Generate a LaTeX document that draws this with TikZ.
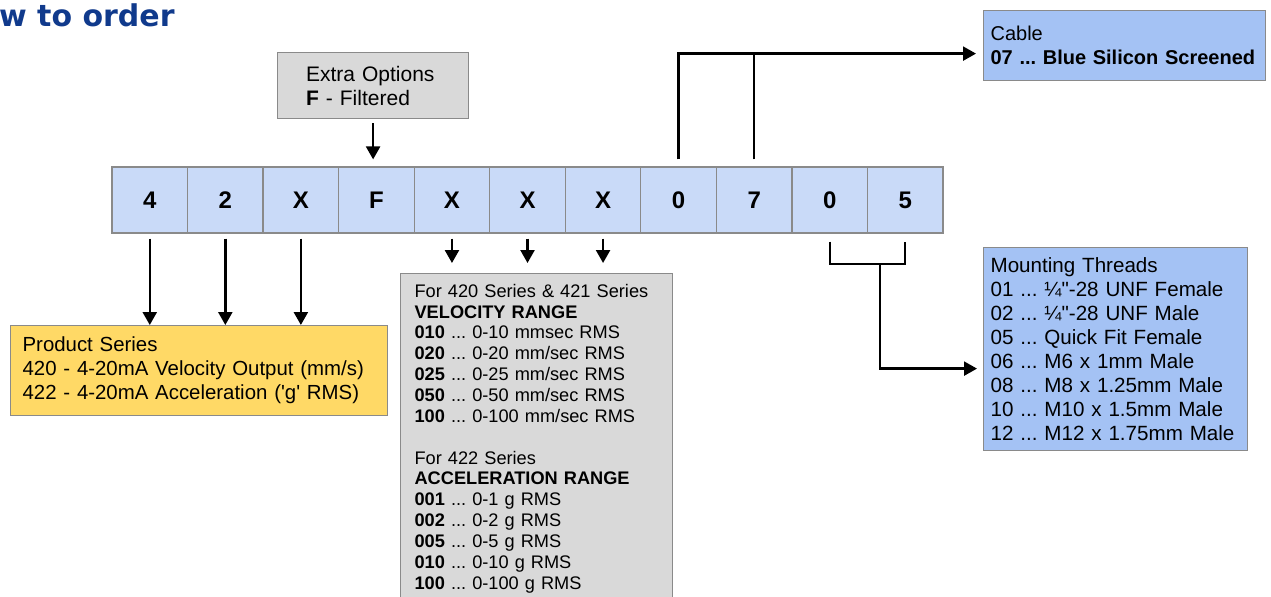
\documentclass[tikz,border=0pt]{standalone}
\usepackage{fontspec}
\setmainfont{Liberation Sans}
\newfontfamily\titlefont{DejaVu Sans}
\usetikzlibrary{arrows.meta}
\frenchspacing

\definecolor{cellblue}{HTML}{C9DAF8}
\definecolor{optgray}{HTML}{D9D9D9}
\definecolor{seriesyellow}{HTML}{FFD966}
\definecolor{optblue}{HTML}{A4C2F4}
\definecolor{titleblue}{HTML}{103A8C}
\definecolor{edgegray}{HTML}{8A8A8A}

\tikzset{
  cell/.style={draw=edgegray,fill=cellblue,line width=0.6pt,inner sep=0pt,
    minimum width=37.78pt,minimum height=33pt,font=\fontsize{12}{14}\selectfont\bfseries},
  optbox/.style={draw=edgegray,line width=0.6pt,anchor=north west,align=left,
    font=\fontsize{10.5}{12}\selectfont},
  arr/.style={-{Triangle[length=6.5pt,width=7pt]},line width=1.2pt},
  link/.style={line width=1.2pt},
}

\begin{document}
\begin{tikzpicture}[x=0.5pt,y=-0.5pt]
\useasboundingbox (0,0) rectangle (1271,596);

% heading, cut at the left edge
\node[anchor=base east,inner sep=0pt,text=titleblue,font=\titlefont\fontsize{15}{18}\selectfont\bfseries] (title) at (175,26) {How to order};

% the code
\foreach \d [count=\i] in {4,2,X,F,X,X,X,0,7,0,5}
  \node[cell] (c\i) at ({112+75.55*(\i-0.5)},200) {\d};

% option boxes
\node[optbox,fill=optgray,text width=67pt,inner xsep=14.25pt,minimum height=33pt] (extra) at (277,52)
  {Extra Options\\\textbf{F} - Filtered};
\node[optbox,fill=seriesyellow,text width=176.5pt,inner xsep=6pt,minimum height=45pt,font=\fontsize{10.2}{12}\selectfont] (series) at (10,325)
  {Product Series\\420 - 4-20mA Velocity Output (mm/s)\\422 - 4-20mA Acceleration (\textquotesingle g\textquotesingle{} RMS)};
\node[optbox,fill=optgray,text width=122pt,inner xsep=7pt,inner ysep=5.2pt,font=\fontsize{9.1}{10.43}\selectfont] (ranges) at (400,273)
  {For 420 Series \& 421 Series\\
   \textbf{VELOCITY RANGE}\\
   \textbf{010} ... 0-10 mmsec RMS\\
   \textbf{020} ... 0-20 mm/sec RMS\\
   \textbf{025} ... 0-25 mm/sec RMS\\
   \textbf{050} ... 0-50 mm/sec RMS\\
   \textbf{100} ... 0-100 mm/sec RMS\\[10.43pt]
   For 422 Series\\
   \textbf{ACCELERATION RANGE}\\
   \textbf{001} ... 0-1 g RMS\\
   \textbf{002} ... 0-2 g RMS\\
   \textbf{005} ... 0-5 g RMS\\
   \textbf{010} ... 0-10 g RMS\\
   \textbf{100} ... 0-100 g RMS};
\node[optbox,fill=optblue,text width=134pt,inner xsep=3.5pt,minimum height=35pt,font=\fontsize{10}{12}\selectfont] (cable) at (983,10)
  {Cable\\\textbf{07 ... Blue Silicon Screened}};
\node[optbox,fill=optblue,text width=125pt,inner xsep=3.5pt,minimum height=101.5pt,font=\fontsize{10.3}{12}\selectfont] (mount) at (983,247)
  {Mounting Threads\\
   01 ... ¼\textquotedbl-28 UNF Female\\
   02 ... ¼\textquotedbl-28 UNF Male\\
   05 ... Quick Fit Female\\
   06 ... M6 x 1mm Male\\
   08 ... M8 x 1.25mm Male\\
   10 ... M10 x 1.5mm Male\\
   12 ... M12 x 1.75mm Male};

% connectors
\draw[arr,shorten <=2pt,shorten >=3.5pt] (extra.south) -- (extra.south |- c4.north);
\foreach \i in {1,2,3}
  \draw[arr,shorten <=2.5pt] (c\i.south) -- (c\i.south |- series.north);
\foreach \i in {5,6,7}
  \draw[arr,shorten <=2.5pt,shorten >=5pt] (c\i.south) -- (c\i.south |- ranges.north);

\coordinate (cablein) at ([yshift=-4pt]cable.west);
\draw[arr,shorten <=3.5pt,shorten >=3.5pt] (c8.north) |- (cablein);
\draw[link,shorten <=3.5pt] (c9.north) -- (c9.north |- cablein);

\coordinate (fork) at (880,264);
\coordinate (mountin) at ([yshift=-9.75pt]mount.west);
\draw[link,shorten <=4pt,shorten >=4pt] (c10.south) |- (fork) -| (c11.south);
\draw[arr,shorten >=3pt] (fork) |- (mountin);
\end{tikzpicture}
\end{document}
